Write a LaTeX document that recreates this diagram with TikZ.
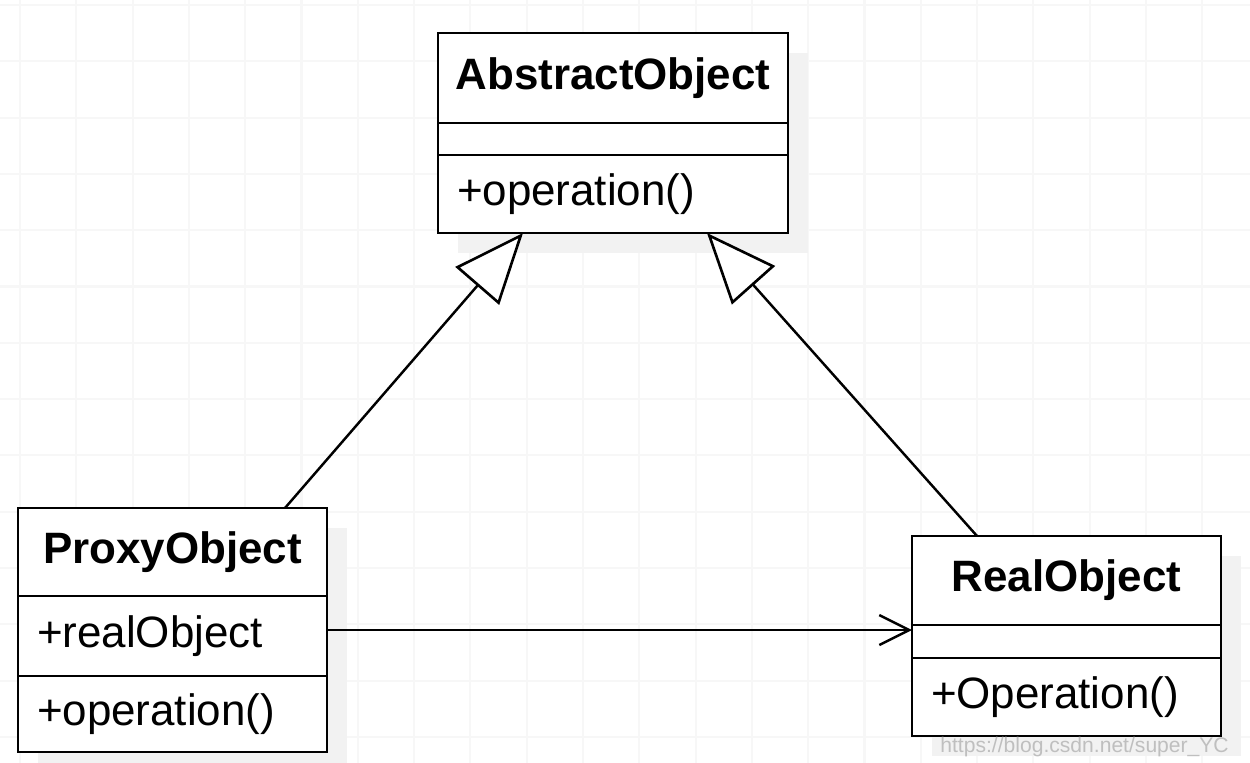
\documentclass[tikz,border=0pt]{standalone}
\usepackage{fontspec}
\setmainfont{Liberation Sans}
\usetikzlibrary{positioning,arrows.meta,backgrounds}

\begin{document}
\begin{tikzpicture}[
    part/.style={draw, line width=1.6pt, fill=white, outer sep=0pt, inner xsep=0.38cm, inner ysep=0pt, font=\fontsize{25}{30}\selectfont},
    head/.style={part, inner xsep=0.15cm, font=\fontsize{25}{30}\selectfont\bfseries},
    member/.style={part, align=left},
    shade/.style={fill=black!5},
    extends/.style={-{Triangle[open, fill=white, length=1.4cm, width=1.15cm, line width=1.5pt]}, line width=1.4pt},
    uses/.style={-{Straight Barb[length=0.6cm, width=0.6cm, line width=1.4pt]}, line width=1.4pt}
]
    \useasboundingbox (0,0) rectangle (25,-15.24);
    \clip (0,0) rectangle (25,-15.24);

    % Faint grid behind everything
    \begin{scope}[on background layer]
        \draw[black!3, line width=1.2pt, shift={(0.4,-0.1)}, step=1.126cm] (-1,-16) grid (26,1);
    \end{scope}

    % AbstractObject
    \node[head, minimum width=7cm, minimum height=1.8cm] (abs-head) at (12.26,-1.56) {AbstractObject};
    \node[member, text width=6.24cm, minimum height=0.64cm, below=0pt of abs-head] (abs-attr) {};
    \node[member, text width=6.24cm, minimum height=1.56cm, below=0pt of abs-attr] (abs-ops) {+operation()};

    % ProxyObject
    \node[head, minimum width=6.18cm, minimum height=1.76cm] (pro-head) at (3.45,-11.04) {ProxyObject};
    \node[member, text width=5.42cm, minimum height=1.6cm, below=0pt of pro-head] (pro-attr) {+realObject};
    \node[member, text width=5.42cm, minimum height=1.52cm, below=0pt of pro-attr] (pro-ops) {+operation()};

    % RealObject
    \node[head, minimum width=6.18cm, minimum height=1.78cm] (real-head) at (21.33,-11.61) {RealObject};
    \node[member, text width=5.42cm, minimum height=0.66cm, below=0pt of real-head] (real-attr) {};
    \node[member, text width=5.42cm, minimum height=1.56cm, below=0pt of real-attr] (real-ops) {+Operation()};

    % Drop shadows
    \begin{scope}[on background layer]
        \fill[shade] ([shift={(0.4,-0.4)}]abs-head.north west) rectangle ([shift={(0.4,-0.4)}]abs-ops.south east);
        \fill[shade] ([shift={(0.4,-0.4)}]pro-head.north west) rectangle ([shift={(0.4,-0.4)}]pro-ops.south east);
        \fill[shade] ([shift={(0.4,-0.4)}]real-head.north west) rectangle ([shift={(0.4,-0.4)}]real-ops.south east);
    \end{scope}

    % Generalisation and association
    \draw[extends] ([xshift=2.25cm]pro-head.north) -- ([xshift=-1.8cm]abs-ops.south);
    \draw[extends] ([xshift=-1.79cm]real-head.north) -- ([xshift=1.88cm]abs-ops.south);
    \draw[uses] ([yshift=0.12cm]pro-attr.east) -- ([yshift=0.12cm]pro-attr.east -| real-attr.west);

    % Watermark
    \node[anchor=base west, text=black!25, font=\fontsize{12}{14}\selectfont, inner sep=0pt] (mark) at (18.8,-15.04) {https://blog.csdn.net/super\_YC};
\end{tikzpicture}
\end{document}
